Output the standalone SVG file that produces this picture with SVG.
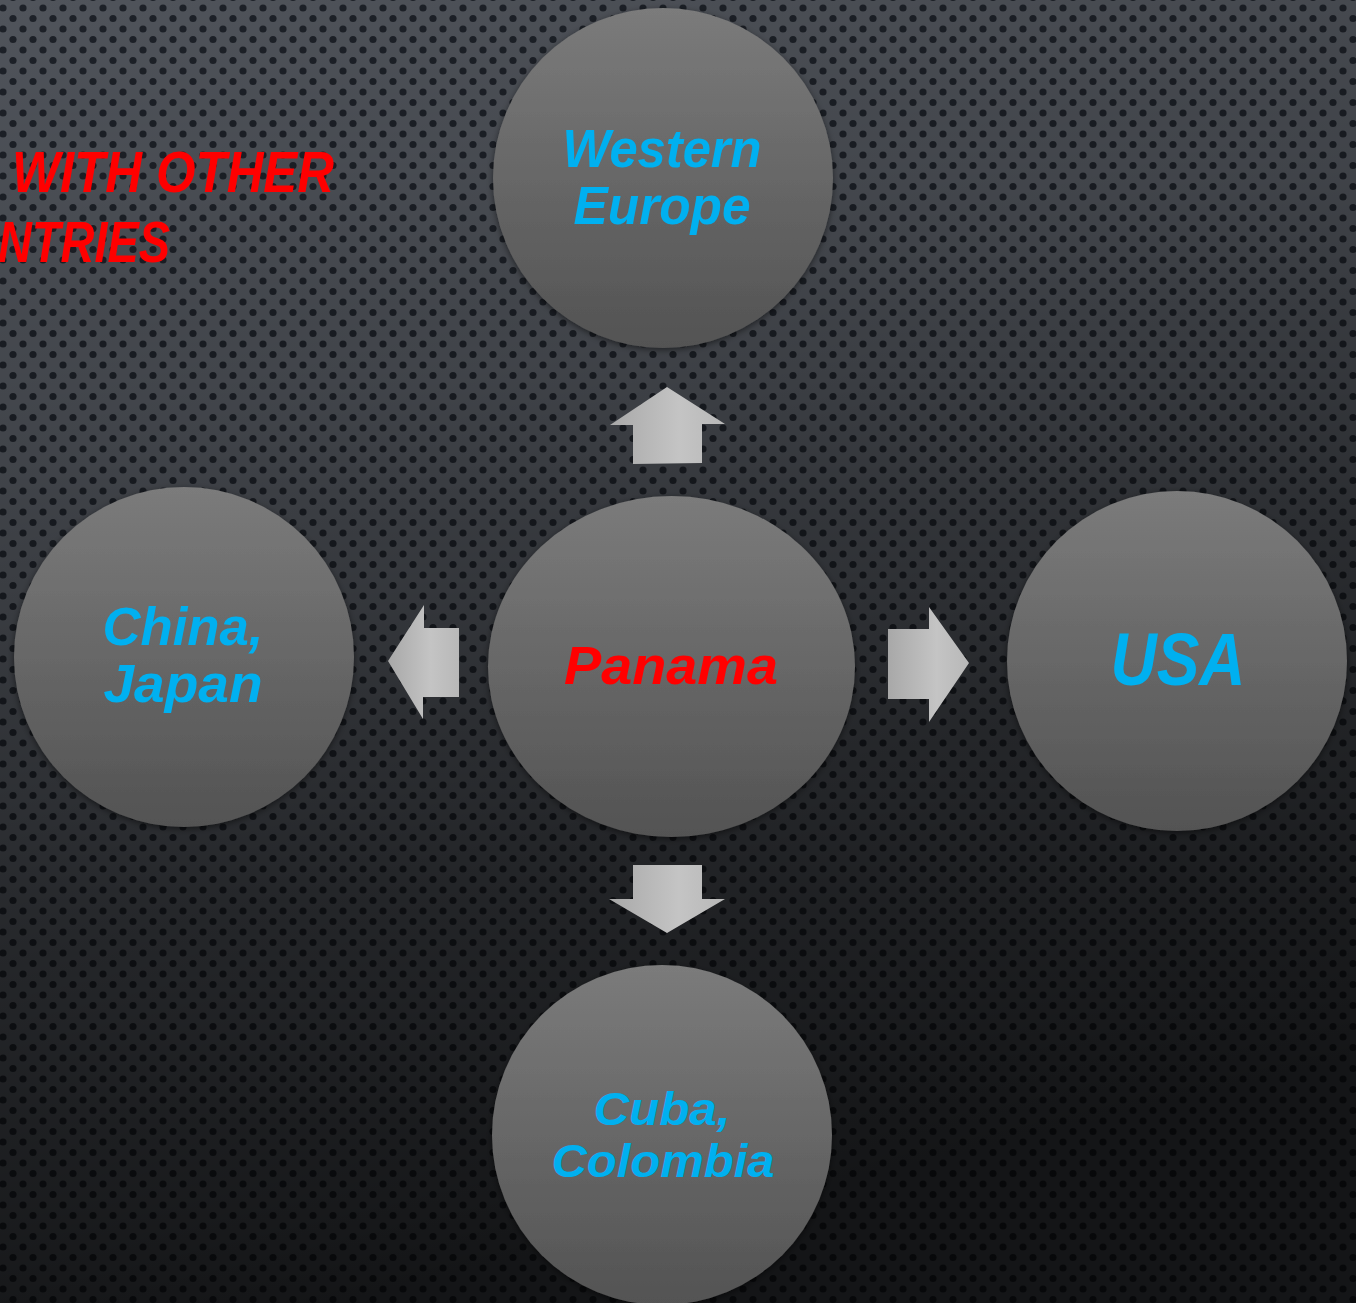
<svg xmlns="http://www.w3.org/2000/svg" width="1356" height="1303" viewBox="0 0 1356 1303">
  <defs>
    <pattern id="dots" x="3" y="8" width="20" height="21" patternUnits="userSpaceOnUse">
      <rect width="20" height="21" fill="#50545b"/>
      <circle cx="0" cy="0" r="3.6" fill="#1d2128"/>
      <circle cx="20" cy="0" r="3.6" fill="#1d2128"/>
      <circle cx="0" cy="21" r="3.6" fill="#1d2128"/>
      <circle cx="20" cy="21" r="3.6" fill="#1d2128"/>
      <circle cx="10" cy="10.5" r="3.6" fill="#1d2128"/>
    </pattern>
    <linearGradient id="shade" x1="0" y1="0" x2="0.25" y2="1">
      <stop offset="0" stop-color="#000" stop-opacity="0"/>
      <stop offset="0.35" stop-color="#000" stop-opacity="0.2"/>
      <stop offset="0.7" stop-color="#000" stop-opacity="0.55"/>
      <stop offset="1" stop-color="#000" stop-opacity="0.75"/>
    </linearGradient>
    <linearGradient id="circ" x1="0" y1="0" x2="0" y2="1">
      <stop offset="0" stop-color="#7b7b7b"/>
      <stop offset="1" stop-color="#535353"/>
    </linearGradient>
    <linearGradient id="arr" x1="0" y1="0" x2="1" y2="0">
      <stop offset="0" stop-color="#a8a8a8"/>
      <stop offset="0.6" stop-color="#c4c4c4"/>
      <stop offset="1" stop-color="#b8b8b8"/>
    </linearGradient>
    <filter id="sh" x="-10%" y="-10%" width="120%" height="120%">
      <feDropShadow dx="0" dy="2" stdDeviation="3" flood-color="#000" flood-opacity="0.5"/>
    </filter>
  </defs>
  <style>
    .node { fill: url(#circ); filter: url(#sh); }
    .lbl { font-family: "Liberation Sans", Arial, sans-serif; font-style: italic; font-weight: bold; text-anchor: middle; fill: #00b0f0; }
    .red { fill: #ff0000; }
    .arrow { fill: url(#arr); }
    .title { font-family: "Liberation Sans", Arial, sans-serif; font-style: italic; font-weight: bold; fill: #ff0000; font-size: 58px; }
  </style>
  <rect width="1356" height="1303" fill="url(#dots)"/>
  <rect width="1356" height="1303" fill="url(#shade)"/>

  <g id="title">
    <text class="title" x="12" y="192" textLength="322" lengthAdjust="spacingAndGlyphs">WITH OTHER</text>
    <text class="title" x="-2" y="262" textLength="172" lengthAdjust="spacingAndGlyphs">NTRIES</text>
  </g>

  <g id="connectors">
    <polygon class="arrow" points="667,387 725,424 702,424 702,463 633,464 633,425 610,425"/>
    <polygon class="arrow" points="388,661 424,605 424,628 459,628 459,697 423,697 423,719"/>
    <polygon class="arrow" points="969,663 929,607 929,629 888,629 888,699 929,699 929,722"/>
    <polygon class="arrow" points="633,865 702,865 702,899 725,899 667,933 609,899 633,899"/>
  </g>

  <g id="node-western-europe">
    <circle class="node" cx="663" cy="178" r="170"/>
    <text class="lbl" x="662" y="167" font-size="54" textLength="199" lengthAdjust="spacingAndGlyphs">Western</text>
    <text class="lbl" x="662" y="224" font-size="54" textLength="177" lengthAdjust="spacingAndGlyphs">Europe</text>
  </g>

  <g id="node-panama">
    <ellipse class="node" cx="671.5" cy="666.5" rx="183.5" ry="170.5"/>
    <text class="lbl red" x="671" y="684" font-size="54" textLength="214" lengthAdjust="spacingAndGlyphs">Panama</text>
  </g>

  <g id="node-china-japan">
    <circle class="node" cx="184" cy="657" r="170"/>
    <text class="lbl" x="183" y="645" font-size="54" textLength="161" lengthAdjust="spacingAndGlyphs">China,</text>
    <text class="lbl" x="183" y="702" font-size="54" textLength="159" lengthAdjust="spacingAndGlyphs">Japan</text>
  </g>

  <g id="node-usa">
    <circle class="node" cx="1177" cy="661" r="170"/>
    <text class="lbl" x="1178" y="685" font-size="74" textLength="135" lengthAdjust="spacingAndGlyphs">USA</text>
  </g>

  <g id="node-cuba-colombia">
    <circle class="node" cx="662" cy="1135" r="170"/>
    <text class="lbl" x="662" y="1125" font-size="46" textLength="137" lengthAdjust="spacingAndGlyphs">Cuba,</text>
    <text class="lbl" x="663" y="1177" font-size="46" textLength="223" lengthAdjust="spacingAndGlyphs">Colombia</text>
  </g>
</svg>
